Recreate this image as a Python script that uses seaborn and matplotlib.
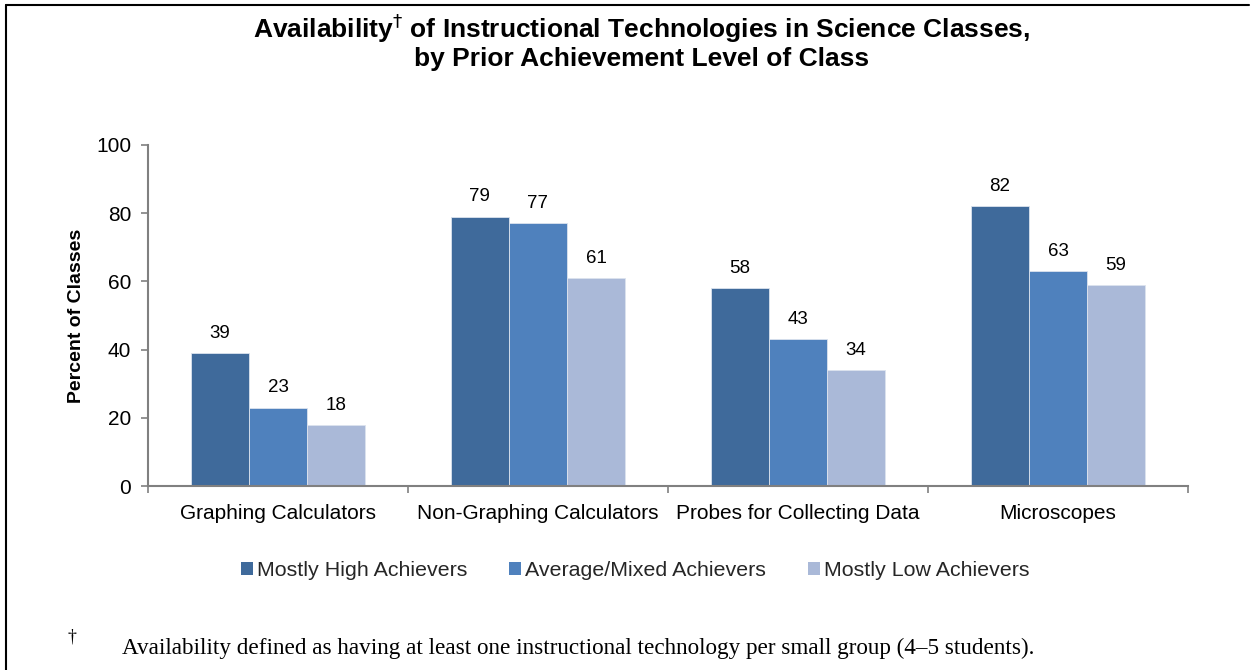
import matplotlib
matplotlib.use("Agg")
import matplotlib.pyplot as plt
import seaborn as sns
import pandas as pd
from matplotlib.lines import Line2D
from matplotlib.patches import Patch

categories = ["Graphing Calculators", "Non-Graphing Calculators",
              "Probes for Collecting Data", "Microscopes"]
groups = ["Mostly High Achievers", "Average/Mixed Achievers", "Mostly Low Achievers"]
high = [39, 79, 58, 82]
mixed = [23, 77, 43, 63]
low = [18, 61, 34, 59]
colors = ["#3F6A9B", "#4F81BD", "#AAB9D8"]

rows = []
for g, vals in zip(groups, [high, mixed, low]):
    for c, v in zip(categories, vals):
        rows.append({"Category": c, "Group": g, "Value": v})
df = pd.DataFrame(rows)

sns.set_theme(style="white")
plt.rcParams['font.family'] = ['Liberation Sans', 'DejaVu Sans']

fig = plt.figure(figsize=(12.53, 6.70), dpi=100)
ax = fig.add_axes([0.1181, 0.2746, 0.8300, 0.5090])

sns.barplot(data=df, x="Category", y="Value", hue="Group", order=categories,
            hue_order=groups, palette=colors, saturation=1, width=0.67, ax=ax,
            edgecolor="#DCE3EE", linewidth=0.6, legend=False)

for cont in ax.containers:
    ax.bar_label(cont, fmt="%d", padding=8, fontsize=13.5, color="black")

ax.set_ylim(0, 100)
ax.set_xlim(-0.5, 3.5)
ax.set_yticks([0, 20, 40, 60, 80, 100])
ax.tick_params(axis="y", which="major", direction="out", length=5, width=1.2,
               color="#808080", labelsize=15, pad=7, left=True)
ax.set_xticks(range(4))
ax.set_xticklabels(categories)
ax.tick_params(axis="x", which="major", length=0, labelsize=15, pad=13)
ax.set_xticks([-0.5, 0.5, 1.5, 2.5, 3.5], minor=True)
ax.tick_params(axis="x", which="minor", direction="out", length=5, width=1.2,
               color="#808080", bottom=True)
for lbl in ax.get_xticklabels() + ax.get_yticklabels():
    lbl.set_color("black")

for s in ["top", "right"]:
    ax.spines[s].set_visible(False)
for s in ["left", "bottom"]:
    ax.spines[s].set_color("#808080")
    ax.spines[s].set_linewidth(1.5)

ax.set_xlabel("")
ax.set_ylabel("Percent of Classes", fontsize=14, fontweight="bold", color="black")
ax.yaxis.set_label_coords(-0.061, 0.5)

handles = [Patch(facecolor=c, edgecolor="none") for c in colors]
fig.legend(handles, groups, loc="center", bbox_to_anchor=(0.507, 0.149), ncol=3,
           frameon=False, fontsize=15.4, handlelength=0.55, handleheight=0.55,
           handletextpad=0.2, columnspacing=1.95)

fig.text(0.512, 0.958, "Availability$^{\u2020}$ of Instructional Technologies in Science Classes,",
         ha="center", va="center", fontsize=19, fontweight="bold", color="black")
fig.text(0.512, 0.912, "by Prior Achievement Level of Class",
         ha="center", va="center", fontsize=19, fontweight="bold", color="black")

fig.text(0.054, 0.049, "\u2020", fontsize=13, family=["Liberation Serif", "DejaVu Serif"],
         ha="left", va="center", color="black")
fig.text(0.097, 0.032, "Availability defined as having at least one instructional technology per small group (4\u20135 students).",
         fontsize=16.7, family=["Liberation Serif", "DejaVu Serif"], ha="left", va="center", color="black")

fig.add_artist(Line2D([0.0048, 0.0048], [0.0, 0.9925], transform=fig.transFigure,
                      color="black", linewidth=1.5))
fig.add_artist(Line2D([0.0048, 0.997], [0.9925, 0.9925], transform=fig.transFigure,
                      color="black", linewidth=1.5))

fig.savefig("out.png", dpi=100, facecolor="white")
